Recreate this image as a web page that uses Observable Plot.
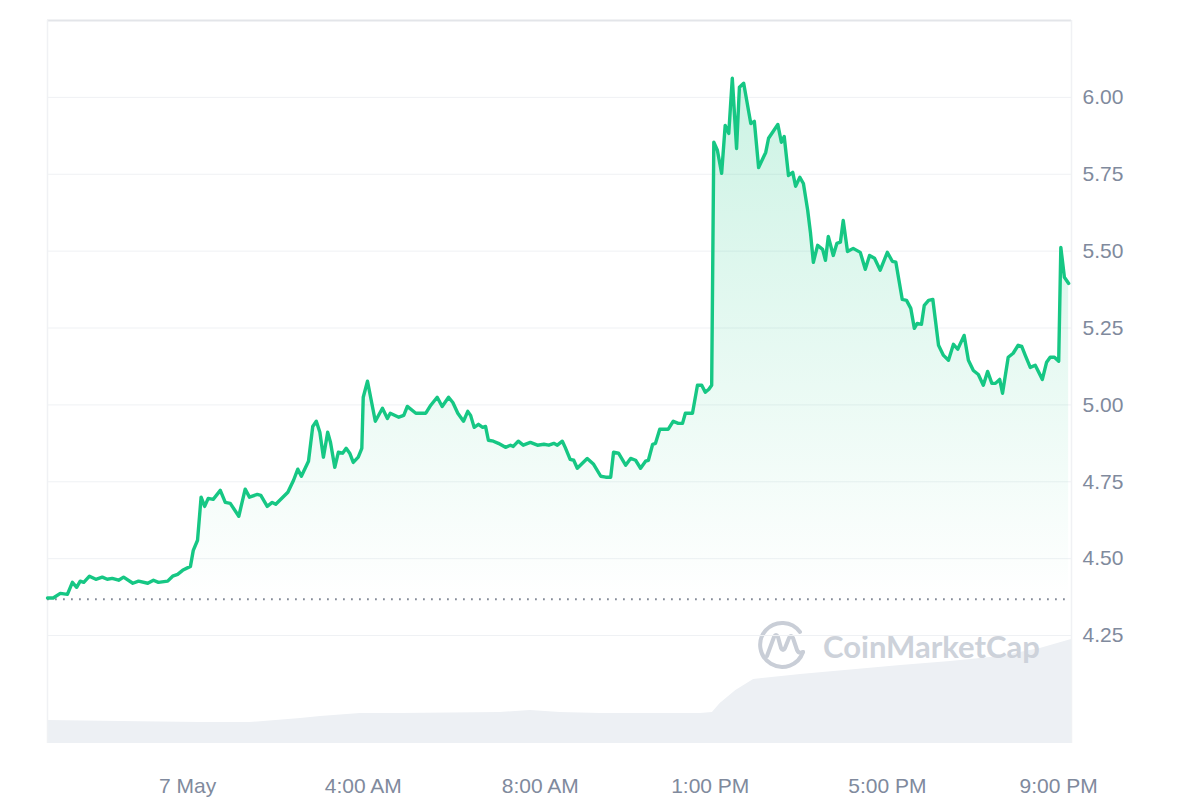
<!DOCTYPE html>
<html>
<head>
<meta charset="utf-8">
<script src="https://cdn.jsdelivr.net/npm/d3@7"></script>
<script src="https://cdn.jsdelivr.net/npm/@observablehq/plot@0.6"></script>
<style>
  html, body { margin: 0; padding: 0; background: #fff; }
  #wrap { position: relative; width: 1200px; height: 800px; overflow: hidden; }
  #wrap > div, #wrap > svg { position: absolute; left: 0; top: 0; }
  #wrap svg { display: block; }
</style>
</head>
<body>
<div id="wrap">
  <div id="vol"></div>
  <svg id="wm" width="1200" height="800" style="pointer-events:none">
    <g stroke="#c9ced7" stroke-width="4" fill="none" stroke-linecap="round" stroke-linejoin="round">
      <path d="M 803 652 A 22 22 0 1 1 800 632"/>
      <path d="M 767 656 L 774 637 Q 776 633 778 637 L 781 648 Q 783 652 785 648 L 789 638 Q 791 634 793 638 L 797 650 Q 799 654 803 652"/>
    </g>
    <text x="823" y="658" font-family="Lato, 'Open Sans', sans-serif" font-weight="700" font-size="30.5" fill="#cdd2da" textLength="217" lengthAdjust="spacingAndGlyphs">CoinMarketCap</text>
  </svg>
  <div id="price"></div>
</div>
<script>
// ---- price series (minutes since chart start, USD) ----
const minutes = [
  0,8,18,28,35,41,46,51,59,68,
  77,84,91,100,107,120,128,141,149,156,
  169,176,183,190,201,205,211,216,221,226,
  233,243,250,257,269,278,284,295,300,309,
  316,321,338,346,352,357,367,373,378,383,
  388,394,398,404,409,415,420,425,430,437,
  442,444,450,461,471,478,482,494,501,506,
  518,532,539,548,555,564,570,577,585,591,
  595,600,606,612,616,620,627,634,644,651,
  655,662,669,679,689,698,705,712,717,724,
  728,735,740,745,759,768,778,785,792,796,
  803,813,820,827,834,841,845,851,855,861,
  866,873,880,887,893,897,907,914,920,925,
  930,934,937,942,948,953,958,963,969,973,
  979,989,994,1000,1010,1014,1027,1032,1036,1042,
  1048,1052,1058,1063,1069,1073,1077,1083,1090,1094,
  1098,1105,1110,1115,1119,1125,1133,1143,1150,1156,
  1163,1171,1181,1188,1193,1202,1208,1214,1219,1223,
  1229,1233,1239,1245,1253,1260,1267,1274,1280,1289,
  1295,1302,1309,1316,1322,1328,1333,1339,1343,1351,
  1358,1365,1370,1375,1382,1389,1399,1405,1410,1416,
  1422,1425,1430,1436
];
const prices = [
  4.372,4.372,4.387,4.384,4.423,4.407,4.427,4.423,4.443,4.433,
  4.440,4.433,4.436,4.430,4.440,4.420,4.427,4.420,4.430,4.423,
  4.427,4.443,4.449,4.462,4.475,4.527,4.560,4.700,4.670,4.696,
  4.693,4.722,4.683,4.680,4.638,4.726,4.700,4.709,4.706,4.670,
  4.683,4.677,4.716,4.755,4.791,4.768,4.817,4.930,4.947,4.911,
  4.830,4.911,4.878,4.797,4.846,4.843,4.859,4.843,4.813,4.830,
  4.859,5.025,5.077,4.947,4.989,4.956,4.973,4.960,4.966,4.995,
  4.973,4.973,4.999,5.025,4.995,5.025,5.008,4.973,4.947,4.979,
  4.966,4.927,4.937,4.927,4.930,4.885,4.882,4.875,4.862,4.869,
  4.865,4.882,4.869,4.878,4.869,4.872,4.869,4.875,4.869,4.882,
  4.862,4.823,4.820,4.794,4.826,4.807,4.768,4.765,4.765,4.846,
  4.843,4.804,4.826,4.820,4.794,4.817,4.820,4.872,4.875,4.921,
  4.921,4.921,4.947,4.940,4.940,4.973,4.973,5.064,5.064,5.041,
  5.051,5.064,5.854,5.828,5.753,5.909,5.883,6.062,5.834,6.033,
  6.046,5.915,5.922,5.772,5.821,5.867,5.912,5.854,5.873,5.746,
  5.756,5.711,5.740,5.720,5.633,5.558,5.464,5.519,5.506,5.470,
  5.548,5.486,5.525,5.529,5.600,5.499,5.509,5.496,5.441,5.486,
  5.477,5.438,5.496,5.467,5.464,5.343,5.340,5.314,5.249,5.265,
  5.262,5.324,5.340,5.343,5.194,5.161,5.145,5.197,5.181,5.226,
  5.145,5.112,5.099,5.064,5.109,5.070,5.070,5.083,5.038,5.155,
  5.168,5.194,5.190,5.161,5.122,5.129,5.083,5.139,5.155,5.155,
  5.142,5.512,5.415,5.395
];
const openPrice = 4.368;

// ---- volume series (minutes since chart start, relative volume) ----
const volMinutes = [0,103,215,285,356,384,440,496,637,679,721,778,848,918,935,946,968,993,1059,1200,1270,1340,1396,1440];
const volumes    = [23,22,21,21,25,27,30,30,31,33,31,30,30,30,31,40,53,64,69,78,82,87,95,104];

// ---- axes ----
const tickMinutes = [197, 444, 693, 932, 1181, 1422];
const tickLabels  = ["7 May", "4:00 AM", "8:00 AM", "1:00 PM", "5:00 PM", "9:00 PM"];
const priceTicks  = [4.25, 4.5, 4.75, 5.0, 5.25, 5.5, 5.75, 6.0];
const gridTicks   = [4.25, 4.5, 4.75, 5.0, 5.25, 5.5, 5.75, 6.0];
const topGrid     = [6.25];
const yDomain     = [3.899, 6.25];
const xDomain     = [0, 1440];

const data = minutes.map((t, i) => ({t, p: prices[i]}));
const volData = volMinutes.map((t, i) => ({t, v: volumes[i]}));
const labelOf = new Map(tickMinutes.map((t, i) => [t, tickLabels[i]]));

const W = 1200, H = 800;
const M = {marginLeft: 47, marginRight: 129, marginTop: 20, marginBottom: 57};

// volume layer
const volPlot = Plot.plot({
  width: W, height: H, ...M,
  style: {background: "transparent"},
  x: {domain: xDomain, axis: null},
  y: {domain: [0, d3.max(volumes)], range: [743, 639], axis: null},
  marks: [
    Plot.areaY(volData, {x: "t", y: "v", fill: "#edf0f4", curve: "linear"})
  ]
});
document.getElementById("vol").appendChild(volPlot);

// price layer
const pricePlot = Plot.plot({
  width: W, height: H, ...M,
  style: {background: "transparent", fontFamily: "'Liberation Sans', Arial, sans-serif", fontSize: "21px", color: "#808a9d"},
  x: {domain: xDomain},
  y: {domain: yDomain},
  marks: [
    Plot.ruleY(gridTicks, {stroke: "#eff1f4", strokeWidth: 1}),
    Plot.ruleY(topGrid, {stroke: "#e3e5e9", strokeWidth: 2}),
    Plot.ruleX(xDomain, {stroke: "#f0f1f4", strokeWidth: 1.5}),
    Plot.areaY(data, {x: "t", y1: openPrice, y2: "p", fill: "url(#priceGrad)"}),
    Plot.ruleY([openPrice], {stroke: "#858c99", strokeWidth: 1.8, strokeDasharray: "1.8 6.2"}),
    Plot.lineY(data, {x: "t", y: "p", stroke: "#16c784", strokeWidth: 3.4, strokeLinejoin: "round", strokeLinecap: "round"}),
    Plot.axisY(priceTicks, {anchor: "right", tickSize: 0, tickPadding: 11, tickFormat: d => d.toFixed(2), label: null, fill: "#808a9d"}),
    Plot.axisX(tickMinutes, {anchor: "bottom", tickSize: 0, tickPadding: 35, tickFormat: d => labelOf.get(d), label: null, fill: "#808a9d"})
  ]
});
const defs = d3.select(pricePlot).insert("defs", ":first-child");
const grad = defs.append("linearGradient").attr("id", "priceGrad")
  .attr("x1", 0).attr("y1", 0).attr("x2", 0).attr("y2", 1);
grad.append("stop").attr("offset", 0).attr("stop-color", "#16c784").attr("stop-opacity", 0.22);
grad.append("stop").attr("offset", 1).attr("stop-color", "#16c784").attr("stop-opacity", 0.0);
document.getElementById("price").appendChild(pricePlot);
</script>
</body>
</html>
